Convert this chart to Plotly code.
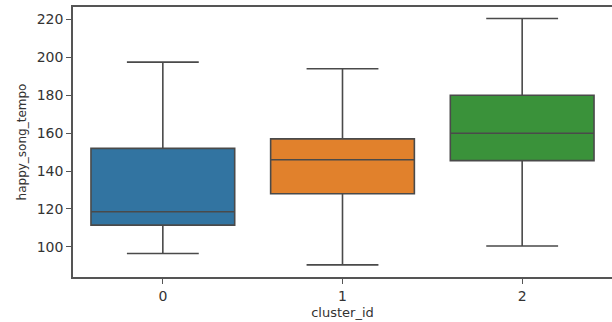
import plotly.graph_objects as go

clusters = [0, 1, 2]
lower_whisker = [96.5, 90.5, 100.5]
q1 = [111.5, 128.0, 145.5]
median = [118.5, 146.0, 160.0]
q3 = [152.0, 157.0, 180.0]
upper_whisker = [197.5, 194.0, 220.5]
colors = ["#3274a1", "#e1812c", "#3a923a"]
y_ticks = [100, 120, 140, 160, 180, 200, 220]

fig = go.Figure()
for i, c in enumerate(clusters):
    fig.add_trace(go.Box(
        x=[c], q1=[q1[i]], median=[median[i]], q3=[q3[i]],
        lowerfence=[lower_whisker[i]], upperfence=[upper_whisker[i]],
        width=0.8, whiskerwidth=0.5,
        fillcolor=colors[i],
        line=dict(color="#4a4a4a", width=1.6),
        showlegend=False, hoverinfo="skip",
    ))

fig.update_layout(
    width=612, height=322,
    margin=dict(l=73, r=0, t=7, b=45),
    paper_bgcolor="white", plot_bgcolor="white",
    boxmode="overlay",
    font=dict(family="DejaVu Sans", size=14, color="#333333"),
    xaxis=dict(
        range=[-0.5, 2.5], tickvals=clusters, ticktext=[str(c) for c in clusters],
        showline=True, linecolor="#555555", linewidth=1.5, mirror=True,
        ticks="outside", ticklen=5, tickcolor="#555555", showgrid=False, zeroline=False,
        title=dict(text="cluster_id", font=dict(size=13), standoff=5),
    ),
    yaxis=dict(
        range=[84.1, 226.6], tickvals=y_ticks,
        showline=True, linecolor="#555555", linewidth=1.5,
        ticks="outside", ticklen=5, tickcolor="#555555", showgrid=False, zeroline=False,
        title=dict(text="happy_song_tempo", font=dict(size=12, color="#333333"), standoff=8),
    ),
)

fig.write_html(
    "out.html",
    config={"displayModeBar": False},
    post_script="document.body.style.margin='0';document.body.style.overflow='hidden';",
)
